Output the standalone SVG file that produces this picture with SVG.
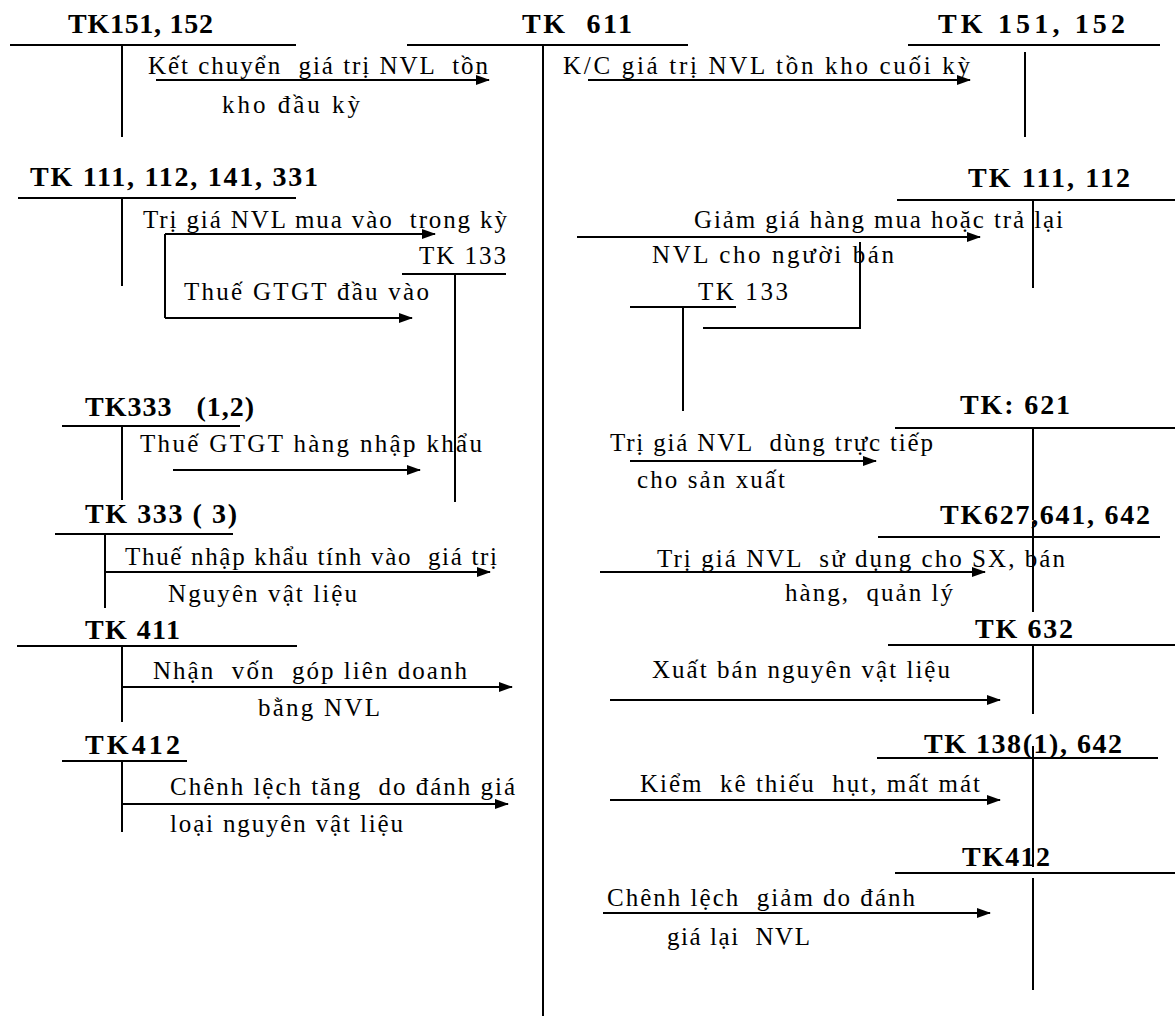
<svg xmlns="http://www.w3.org/2000/svg" width="1175" height="1016" viewBox="0 0 1175 1016">
<style>
text{font-family:"Liberation Serif","Times New Roman",serif;fill:#000;white-space:pre}
.t{font-size:25px}
.h{font-size:28px;font-weight:bold}
.ln{stroke:#000;stroke-width:2;fill:none}
.ar{stroke:#000;stroke-width:2;fill:none;marker-end:url(#ah)}
</style>
<defs>
<marker id="ah" markerWidth="14" markerHeight="10" refX="13" refY="5" orient="auto" markerUnits="userSpaceOnUse">
<path d="M0,0 L14,5 L0,10 z" fill="#000"/>
</marker>
</defs>
<rect width="1175" height="1016" fill="#fff"/>

<g id="tk611">
<text class="h" x="522" y="33" textLength="110" lengthAdjust="spacing">TK  611</text>
<line class="ln" x1="407" y1="45" x2="688" y2="45"/>
<line class="ln" x1="543" y1="45" x2="543" y2="1016"/>
</g>

<g id="tk151L">
<text class="h" x="68" y="33" textLength="145" lengthAdjust="spacing">TK151, 152</text>
<line class="ln" x1="10" y1="45" x2="296" y2="45"/>
<line class="ln" x1="122" y1="45" x2="122" y2="137"/>
</g>
<g id="tk111L">
<text class="h" x="30" y="186" textLength="288" lengthAdjust="spacing">TK 111, 112, 141, 331</text>
<line class="ln" x1="18" y1="198" x2="296" y2="198"/>
<line class="ln" x1="122" y1="198" x2="122" y2="286"/>
</g>
<g id="tk133L">
<text class="t" x="419" y="264" textLength="87" lengthAdjust="spacing">TK 133</text>
<line class="ln" x1="402" y1="274" x2="506" y2="274"/>
<line class="ln" x1="455" y1="274" x2="455" y2="502"/>
</g>
<g id="tk33312">
<text class="h" x="85" y="416" textLength="169" lengthAdjust="spacing">TK333   (1,2)</text>
<line class="ln" x1="62" y1="426" x2="240" y2="426"/>
<line class="ln" x1="122" y1="426" x2="122" y2="500"/>
</g>
<g id="tk3333">
<text class="h" x="85" y="523" textLength="152" lengthAdjust="spacing">TK 333 ( 3)</text>
<line class="ln" x1="55" y1="534" x2="233" y2="534"/>
<line class="ln" x1="105" y1="534" x2="105" y2="608"/>
</g>
<g id="tk411">
<text class="h" x="85" y="639" textLength="95" lengthAdjust="spacing">TK 411</text>
<line class="ln" x1="17" y1="646" x2="297" y2="646"/>
<line class="ln" x1="122" y1="646" x2="122" y2="722"/>
</g>
<g id="tk412L">
<text class="h" x="85" y="754" textLength="95" lengthAdjust="spacing">TK412</text>
<line class="ln" x1="62" y1="761" x2="187" y2="761"/>
<line class="ln" x1="122" y1="761" x2="122" y2="832"/>
</g>

<g id="tk151R">
<text class="h" x="938" y="33" textLength="187" lengthAdjust="spacing">TK 151, 152</text>
<line class="ln" x1="908" y1="45" x2="1160" y2="45"/>
<line class="ln" x1="1025" y1="52" x2="1025" y2="137"/>
</g>
<g id="tk111R">
<text class="h" x="968" y="187" textLength="162" lengthAdjust="spacing">TK 111, 112</text>
<line class="ln" x1="897" y1="200" x2="1175" y2="200"/>
<line class="ln" x1="1033" y1="200" x2="1033" y2="288"/>
</g>
<g id="tk133R">
<text class="t" x="698" y="300" textLength="90" lengthAdjust="spacing">TK 133</text>
<line class="ln" x1="630" y1="307" x2="736" y2="307"/>
<line class="ln" x1="683" y1="307" x2="683" y2="411"/>
</g>
<g id="tk621">
<text class="h" x="960" y="414" textLength="110" lengthAdjust="spacing">TK: 621</text>
<line class="ln" x1="895" y1="428" x2="1175" y2="428"/>
<line class="ln" x1="1033" y1="428" x2="1033" y2="520"/>
</g>
<g id="tk627">
<text class="h" x="940" y="524" textLength="210" lengthAdjust="spacing">TK627,641, 642</text>
<line class="ln" x1="878" y1="537" x2="1160" y2="537"/>
<line class="ln" x1="1033" y1="522" x2="1033" y2="612"/>
</g>
<g id="tk632">
<text class="h" x="975" y="638" textLength="98" lengthAdjust="spacing">TK 632</text>
<line class="ln" x1="888" y1="645" x2="1175" y2="645"/>
<line class="ln" x1="1033" y1="645" x2="1033" y2="714"/>
</g>
<g id="tk1381">
<text class="h" x="924" y="753" textLength="198" lengthAdjust="spacing">TK 138(1), 642</text>
<line class="ln" x1="877" y1="758" x2="1158" y2="758"/>
<line class="ln" x1="1033" y1="746" x2="1033" y2="867"/>
</g>
<g id="tk412R">
<text class="h" x="962" y="866" textLength="88" lengthAdjust="spacing">TK412</text>
<line class="ln" x1="895" y1="873" x2="1175" y2="873"/>
<line class="ln" x1="1033" y1="878" x2="1033" y2="990"/>
</g>

<g id="connectors">
<line class="ar" x1="156" y1="80" x2="489" y2="80"/>
<line class="ar" x1="165" y1="234" x2="435" y2="234"/>
<line class="ln" x1="165" y1="234" x2="165" y2="318"/>
<line class="ar" x1="165" y1="318" x2="412" y2="318"/>
<line class="ar" x1="173" y1="470" x2="420" y2="470"/>
<line class="ar" x1="105" y1="572" x2="490" y2="572"/>
<line class="ar" x1="122" y1="687" x2="512" y2="687"/>
<line class="ar" x1="122" y1="804" x2="508" y2="804"/>
<line class="ar" x1="588" y1="80" x2="970" y2="80"/>
<line class="ar" x1="577" y1="237" x2="980" y2="237"/>
<polyline class="ln" points="860,242 860,328 703,328"/>
<line class="ar" x1="630" y1="461" x2="876" y2="461"/>
<line class="ar" x1="600" y1="572" x2="985" y2="572"/>
<line class="ar" x1="610" y1="700" x2="1000" y2="700"/>
<line class="ar" x1="610" y1="800" x2="1000" y2="800"/>
<line class="ar" x1="603" y1="913" x2="990" y2="913"/>
</g>

<g id="labels">
<text class="t" x="148" y="74" textLength="340" lengthAdjust="spacing">Kết chuyển  giá trị NVL  tồn</text>
<text class="t" x="222" y="113" textLength="138" lengthAdjust="spacing">kho đầu kỳ</text>
<text class="t" x="143" y="228" textLength="364" lengthAdjust="spacing">Trị giá NVL mua vào  trong kỳ</text>
<text class="t" x="184" y="300" textLength="245" lengthAdjust="spacing">Thuế GTGT đầu vào</text>
<text class="t" x="140" y="452" textLength="342" lengthAdjust="spacing">Thuế GTGT hàng nhập khẩu</text>
<text class="t" x="125" y="565" textLength="372" lengthAdjust="spacing">Thuế nhập khẩu tính vào  giá trị</text>
<text class="t" x="168" y="602" textLength="189" lengthAdjust="spacing">Nguyên vật liệu</text>
<text class="t" x="153" y="679" textLength="314" lengthAdjust="spacing">Nhận  vốn  góp liên doanh</text>
<text class="t" x="258" y="716" textLength="122" lengthAdjust="spacing">bằng NVL</text>
<text class="t" x="170" y="795" textLength="345" lengthAdjust="spacing">Chênh lệch tăng  do đánh giá</text>
<text class="t" x="170" y="832" textLength="233" lengthAdjust="spacing">loại nguyên vật liệu</text>
<text class="t" x="563" y="74" textLength="407" lengthAdjust="spacing">K/C giá trị NVL tồn kho cuối kỳ</text>
<text class="t" x="694" y="228" textLength="369" lengthAdjust="spacing">Giảm giá hàng mua hoặc trả lại</text>
<text class="t" x="652" y="263" textLength="242" lengthAdjust="spacing">NVL cho người bán</text>
<text class="t" x="610" y="451" textLength="323" lengthAdjust="spacing">Trị giá NVL  dùng trực tiếp</text>
<text class="t" x="637" y="488" textLength="148" lengthAdjust="spacing">cho sản xuất</text>
<text class="t" x="657" y="567" textLength="408" lengthAdjust="spacing">Trị giá NVL  sử dụng cho SX, bán</text>
<text class="t" x="785" y="601" textLength="168" lengthAdjust="spacing">hàng,  quản lý</text>
<text class="t" x="652" y="678" textLength="298" lengthAdjust="spacing">Xuất bán nguyên vật liệu</text>
<text class="t" x="640" y="792" textLength="340" lengthAdjust="spacing">Kiểm  kê thiếu  hụt, mất mát</text>
<text class="t" x="607" y="906" textLength="308" lengthAdjust="spacing">Chênh lệch  giảm do đánh</text>
<text class="t" x="667" y="945" textLength="143" lengthAdjust="spacing">giá lại  NVL</text>
</g>
</svg>
